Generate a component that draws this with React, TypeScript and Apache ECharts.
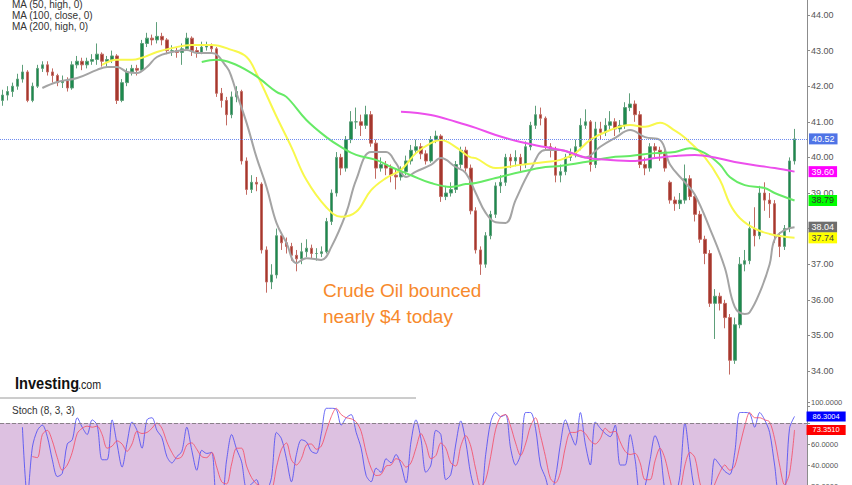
import React, { useEffect, useRef } from 'react';
import * as echarts from 'echarts';

// ---------- Candles ----------
const opens = [
  41.6, 41.75, 41.85, 42.0, 42.2, 42.4, 41.6, 42.0, 42.5, 42.6,
  42.4, 42.3, 42.1, 42.15, 41.95, 42.6, 42.7, 42.6, 42.7, 42.75,
  42.9, 42.7, 42.75, 42.85, 41.6, 42.1, 42.4, 42.5, 42.45, 43.2,
  43.35, 43.3, 43.4, 43.3, 43.0, 43.0, 42.95, 43.05, 43.35, 43.0,
  42.95, 43.1, 43.15, 43.05, 41.8, 41.6, 41.2, 41.7, 41.85, 39.9,
  39.1, 39.3, 39.25, 37.4, 36.5, 36.7, 37.8, 37.6, 37.5, 37.25,
  37.15, 37.35, 37.45, 37.3, 37.3, 37.35, 38.2, 39.0, 40.0, 39.7,
  40.5, 41.0, 41.0, 40.9, 41.2, 40.4, 39.7, 39.8, 39.7, 39.5,
  39.45, 39.6, 39.9, 40.2, 40.3, 40.1, 39.9, 40.5, 40.6, 38.9,
  39.0, 39.1, 39.8, 40.2, 39.7, 38.5, 37.4, 37.0, 37.8, 38.4,
  39.2, 39.3, 40.0, 39.9, 40.0, 39.8, 40.3, 40.9, 41.2, 41.1,
  40.3, 40.2, 39.5, 39.6, 40.0, 40.1, 40.3, 40.9, 41.0, 39.8,
  40.8, 40.7, 40.9, 41.0, 40.8, 40.9, 41.4, 41.5, 41.2, 39.8,
  39.7, 40.3, 40.2, 40.1, 39.3, 38.8, 38.7, 38.8, 39.4, 38.9,
  38.4, 37.7, 37.3, 35.9, 36.1, 35.9, 35.5, 34.3, 35.3, 37.0,
  37.1, 38.0, 37.8, 39.0, 38.8, 38.7, 37.8, 37.5, 38.0, 39.9,
];
const closes = [
  41.75, 41.85, 42.0, 42.2, 42.4, 41.6, 42.0, 42.5, 42.6, 42.4,
  42.3, 42.1, 42.15, 41.95, 42.6, 42.7, 42.6, 42.7, 42.75, 42.9,
  42.7, 42.75, 42.85, 41.6, 42.1, 42.4, 42.5, 42.45, 43.2, 43.35,
  43.3, 43.4, 43.3, 43.0, 43.0, 42.95, 43.05, 43.35, 43.0, 42.95,
  43.1, 43.15, 43.05, 41.8, 41.6, 41.2, 41.7, 41.85, 39.9, 39.1,
  39.3, 39.25, 37.4, 36.5, 36.7, 37.8, 37.6, 37.5, 37.25, 37.15,
  37.35, 37.45, 37.3, 37.3, 37.35, 38.2, 39.0, 40.0, 39.7, 40.5,
  41.0, 41.0, 40.9, 41.2, 40.4, 39.7, 39.8, 39.7, 39.5, 39.45,
  39.6, 39.9, 40.2, 40.3, 40.1, 39.9, 40.5, 40.6, 38.9, 39.0,
  39.1, 39.8, 40.2, 39.7, 38.5, 37.4, 37.0, 37.8, 38.4, 39.2,
  39.3, 40.0, 39.9, 40.0, 39.8, 40.3, 40.9, 41.2, 41.1, 40.3,
  40.2, 39.5, 39.6, 40.0, 40.1, 40.3, 40.9, 41.0, 39.8, 40.8,
  40.7, 40.9, 41.0, 40.8, 40.9, 41.4, 41.5, 41.2, 39.8, 39.7,
  40.3, 40.2, 40.1, 39.7, 38.8, 38.7, 38.8, 39.4, 38.9, 38.4,
  37.7, 37.3, 35.9, 36.1, 35.9, 35.5, 34.3, 35.3, 37.0, 37.1,
  38.0, 37.8, 39.0, 38.8, 38.7, 37.8, 37.5, 38.0, 39.9, 40.52,
];
const lows = [
  41.45, 41.6, 41.7, 41.9, 42.1, 41.55, 41.55, 41.95, 42.4, 42.3,
  42.1, 42.0, 41.95, 41.85, 41.9, 42.5, 42.45, 42.5, 42.6, 42.6,
  42.55, 42.55, 42.65, 41.5, 41.55, 42.0, 42.3, 42.3, 42.4, 43.1,
  43.15, 43.2, 43.15, 42.9, 42.85, 42.8, 42.6, 43.0, 42.85, 42.8,
  42.9, 43.0, 42.95, 41.7, 41.4, 40.9, 41.1, 41.55, 39.8, 38.95,
  39.0, 39.05, 37.3, 36.2, 36.3, 36.6, 37.4, 37.3, 37.1, 36.8,
  37.0, 37.2, 37.15, 37.1, 37.2, 37.3, 38.1, 38.9, 39.5, 39.6,
  40.4, 40.8, 40.6, 40.8, 40.3, 39.4, 39.6, 39.5, 39.3, 39.1,
  39.35, 39.5, 39.8, 40.1, 39.95, 39.8, 39.85, 40.4, 38.75, 38.8,
  38.9, 39.0, 39.7, 39.6, 38.4, 37.3, 36.7, 36.9, 37.7, 38.3,
  39.0, 39.2, 39.7, 39.75, 39.6, 39.7, 40.2, 40.8, 40.9, 40.2,
  40.0, 39.3, 39.3, 39.5, 39.9, 40.0, 40.2, 40.8, 39.6, 39.7,
  40.5, 40.6, 40.75, 40.6, 40.7, 40.8, 41.3, 41.0, 39.7, 39.5,
  39.6, 40.0, 39.9, 39.6, 38.7, 38.5, 38.55, 38.7, 38.8, 38.2,
  37.6, 37.0, 35.8, 34.9, 35.7, 35.2, 33.9, 34.2, 35.2, 36.8,
  37.0, 37.5, 37.7, 38.5, 38.3, 37.6, 37.2, 37.4, 37.9, 39.8,
];
const highs = [
  41.9, 42.0, 42.1, 42.35, 42.6, 42.45, 42.1, 42.6, 42.7, 42.7,
  42.5, 42.35, 42.3, 42.25, 42.7, 42.85, 42.8, 42.8, 42.9, 43.2,
  42.95, 42.85, 43.0, 42.9, 42.2, 42.5, 42.6, 42.6, 43.3, 43.5,
  43.45, 43.8, 43.5, 43.35, 43.15, 43.1, 43.2, 43.5, 43.4, 43.1,
  43.25, 43.25, 43.2, 43.1, 41.95, 41.7, 41.85, 42.0, 41.9, 40.0,
  39.5, 39.45, 39.3, 37.5, 37.0, 38.0, 37.9, 37.75, 37.6, 37.4,
  37.6, 37.7, 37.55, 37.45, 37.5, 38.3, 39.1, 40.15, 40.1, 40.6,
  41.3, 41.4, 41.2, 41.45, 41.3, 40.5, 40.0, 39.9, 39.8, 39.65,
  39.75, 40.05, 40.35, 40.5, 40.4, 40.2, 40.6, 40.75, 40.65, 39.2,
  39.3, 39.9, 40.3, 40.3, 39.8, 38.6, 37.5, 37.9, 38.5, 39.3,
  39.5, 40.1, 40.1, 40.2, 40.1, 40.45, 41.0, 41.45, 41.4, 41.15,
  40.4, 40.3, 39.8, 40.1, 40.25, 40.5, 41.1, 41.35, 41.05, 41.0,
  41.0, 41.1, 41.3, 41.1, 41.05, 41.55, 41.8, 41.6, 41.3, 40.0,
  40.4, 40.4, 40.3, 40.2, 39.35, 38.9, 39.0, 39.8, 39.5, 39.0,
  38.5, 37.8, 37.4, 36.3, 36.2, 36.0, 35.6, 35.5, 37.2, 37.4,
  38.2, 38.6, 39.2, 39.3, 39.0, 38.8, 37.9, 38.1, 40.0, 40.8,
];

// ---------- Moving averages: [bar index, value] ----------
const maGray = [
  [8, 41.95], [11, 42.12], [15, 42.23], [19, 42.46], [21, 42.54], [23, 42.54], [25, 42.4],
  [27, 42.37], [29, 42.54], [31, 42.82], [34, 42.96], [37, 43.02], [39, 42.93], [42, 42.93],
  [45, 42.54], [46, 42.25], [47, 41.8], [49, 40.97], [51, 40.0], [53, 39.17], [55, 38.16],
  [57, 37.6], [59, 37.03], [61, 37.17], [64, 37.12], [66, 37.48], [69, 38.44], [71, 39.37],
  [74, 40.15], [77, 40.15], [79, 39.84], [81, 39.45], [83, 39.6], [86, 39.79], [88, 39.98],
  [91, 39.73], [93, 39.56], [95, 39.0], [97, 38.44], [99, 38.18], [101, 38.16], [103, 38.8],
  [106, 39.65], [109, 40.21], [112, 40.21], [115, 40.07], [117, 40.0], [120, 40.3],
  [123, 40.55], [126, 40.77], [129, 40.57], [132, 40.49], [134, 39.8], [137, 39.3],
  [139, 38.95], [142, 38.0], [145, 36.9], [147, 35.8], [149, 35.6], [150, 35.65],
  [152, 36.2], [154, 37.0], [155, 37.7], [157, 37.96], [159, 38.04],
];
const maYellow = [
  [20, 42.6], [23, 42.74], [26, 42.74], [28, 42.8], [31, 42.96], [34, 43.07], [38, 43.16],
  [42, 43.16], [46, 43.02], [49, 42.82], [51, 42.35], [55, 41.15], [58, 40.29], [61, 39.37],
  [65, 38.6], [68, 38.33], [71, 38.47], [74, 39.08], [77, 39.42], [80, 39.65], [83, 40.12],
  [86, 40.4], [88, 40.49], [91, 40.29], [94, 40.0], [95, 39.98], [99, 39.7], [104, 39.79],
  [109, 39.87], [112, 39.93], [115, 40.12], [118, 40.49], [122, 40.77], [126, 40.91],
  [129, 40.86], [132, 40.97], [135, 40.75], [137, 40.55], [141, 40.0], [144, 39.37],
  [146, 38.7], [148, 38.3], [151, 38.0], [154, 37.85], [157, 37.77], [159, 37.74],
];
const maGreen = [
  [40, 42.68], [43, 42.74], [46, 42.65], [50, 42.37], [52, 42.17], [55, 41.84], [57, 41.7],
  [61, 41.05], [65, 40.57], [68, 40.29], [71, 40.07], [75, 39.93], [78, 39.73], [82, 39.5],
  [86, 39.28], [90, 39.17], [93, 39.25], [95, 39.28], [99, 39.42], [104, 39.59], [109, 39.73],
  [112, 39.76], [117, 39.87], [122, 40.0], [126, 40.04], [131, 40.12], [135, 40.15],
  [138, 40.26], [141, 40.12], [144, 39.8], [146, 39.45], [149, 39.22], [153, 39.14],
  [155, 39.0], [159, 38.79],
];
const maMagenta = [
  [80, 41.28], [86, 41.19], [91, 41.0], [95, 40.83], [99, 40.63], [104, 40.43], [109, 40.29],
  [113, 40.18], [117, 40.0], [122, 39.93], [127, 39.9], [131, 39.98], [135, 40.04],
  [139, 40.07], [143, 40.0], [147, 39.87], [152, 39.76], [155, 39.7], [159, 39.6],
];

// ---------- Stochastic (8,3,3) ----------
const stochK = [
  null, null, null, null, 76, 10, 57, 73, 78, 67,
  45, 29, 32, 60, 64, 85, 76, 69, 83, 78,
  45, 45, 83, 60, 38, 61, 81, 73, 56, 83,
  85, 73, 66, 48, 42, 48, 53, 76, 54, 35,
  54, 51, 52, 10, 10, 45, 69, 55, 43, 18,
  22, 26, 12, 15, 28, 71, 65, 46, 24, 50,
  64, 62, 53, 51, 70, 94, 94, 93, 78, 85,
  88, 71, 56, 30, 24, 37, 33, 46, 42, 50,
  40, 23, 62, 83, 65, 33, 40, 73, 69, 26,
  31, 60, 82, 62, 31, 15, 12, 50, 81, 90,
  86, 88, 56, 40, 50, 90, 90, 75, 40, 28,
  12, 28, 60, 83, 70, 59, 90, 60, 40, 81,
  75, 70, 67, 78, 40, 40, 69, 45, 12, 20,
  45, 68, 55, 15, 8, 10, 30, 80, 45, 15,
  8, 8, 12, 46, 40, 34, 31, 52, 90, 90,
  89, 76, 90, 83, 71, 40, 10, 12, 75, 86.3004,
];
const stochD = [
  null, null, null, null, null, null, 48, 47, 69, 73,
  63, 47, 35, 40, 52, 70, 75, 77, 76, 77,
  69, 56, 58, 63, 60, 53, 60, 72, 70, 71,
  75, 80, 75, 62, 52, 46, 48, 59, 61, 55,
  48, 47, 52, 38, 24, 22, 41, 56, 56, 39,
  28, 22, 20, 18, 18, 38, 55, 61, 45, 40,
  46, 59, 60, 55, 58, 72, 86, 94, 88, 85,
  84, 81, 72, 52, 37, 30, 31, 39, 40, 46,
  44, 38, 42, 56, 70, 60, 46, 49, 61, 56,
  42, 39, 58, 68, 58, 36, 19, 26, 48, 74,
  86, 88, 77, 61, 49, 60, 77, 85, 68, 48,
  27, 23, 33, 57, 71, 71, 73, 70, 63, 60,
  65, 75, 71, 72, 62, 53, 50, 51, 42, 26,
  26, 44, 56, 46, 26, 11, 16, 40, 52, 47,
  23, 10, 9, 22, 33, 40, 35, 39, 58, 77,
  90, 85, 85, 83, 81, 65, 40, 21, 32, 73.351,
];

const legendLines = ['MA (50, high, 0)', 'MA (100, close, 0)', 'MA (200, high, 0)'];
const noteLines = ['Crude Oil bounced', 'nearly $4 today'];
const stochTitle = 'Stoch (8, 3, 3)';
const extraSlots = 2;

const FONT = '"Liberation Sans", Arial, sans-serif';

function maSeries(data: number[][], color: string, boxColor: string, textColor: string) {
  return {
    type: 'line',
    xAxisIndex: 0,
    yAxisIndex: 0,
    data,
    smooth: 0.4,
    showSymbol: false,
    silent: true,
    lineStyle: { color, width: 2 },
    itemStyle: { color },
    endLabel: {
      show: true,
      formatter: (p: any) => Number(p.value[1]).toFixed(2),
      backgroundColor: boxColor,
      color: textColor,
      fontSize: 9,
      fontFamily: FONT,
      padding: [1, 3, 1, 3],
      distance: 14,
    },
  };
}

export default function App() {
  const ref = useRef<HTMLDivElement>(null);

  useEffect(() => {
    document.body.style.margin = '0';
    const chart = echarts.init(ref.current!, null, { renderer: 'svg' });
    const cats: string[] = [];
    for (let i = 0; i < closes.length + extraSlots; i++) cats.push(String(i));
    const candles = closes.map((c, i) => [opens[i], c, lows[i], highs[i]]);
    const last = closes[closes.length - 1];

    chart.setOption({
      animation: false,
      backgroundColor: '#ffffff',
      grid: [
        { left: 0, right: 45, top: -20.6, height: 427.2, outerBoundsMode: 'none', containLabel: false },
        { left: 0, right: 45, top: 402, height: 105, outerBoundsMode: 'none', containLabel: false },
      ],
      xAxis: [
        { type: 'category', gridIndex: 0, data: cats, boundaryGap: true, show: false },
        { type: 'category', gridIndex: 1, data: cats, boundaryGap: true, show: false },
      ],
      yAxis: [
        {
          type: 'value', gridIndex: 0, position: 'right', min: 33, max: 45, interval: 1,
          splitLine: { show: false },
          axisLine: { show: true, lineStyle: { color: '#8c8c8c', width: 1 } },
          axisTick: { show: true, length: 3, lineStyle: { color: '#8c8c8c' } },
          axisLabel: {
            fontSize: 9, color: '#555', margin: 4, fontFamily: FONT,
            formatter: (v: number) => (v < 34 || v > 44 ? '' : v.toFixed(2)),
          },
        },
        {
          type: 'value', gridIndex: 1, position: 'right', min: 0, max: 100, interval: 20,
          splitLine: { show: false },
          axisLine: { show: true, lineStyle: { color: '#8c8c8c', width: 1 } },
          axisTick: { show: true, length: 3, lineStyle: { color: '#8c8c8c' } },
          axisLabel: {
            fontSize: 7.5, color: '#555', margin: 4, fontFamily: FONT,
            formatter: (v: number) => (v === 80 || v === 0 ? '' : v.toFixed(4)),
          },
        },
      ],
      series: [
        {
          type: 'candlestick',
          xAxisIndex: 0,
          yAxisIndex: 0,
          data: candles,
          barWidth: 3,
          silent: true,
          itemStyle: {
            color: '#1d8a4e',
            color0: '#a4382e',
            borderColor: '#5e9f7a',
            borderColor0: '#c26a62',
            borderWidth: 1,
          },
          markLine: {
            silent: true,
            symbol: 'none',
            data: [{ yAxis: last }],
            lineStyle: { color: '#6f8cf0', type: 'dotted', width: 1 },
            label: {
              show: true,
              position: 'end',
              distance: 2,
              formatter: (p: any) => Number(p.value).toFixed(2),
              backgroundColor: '#4f74e6',
              color: '#fff',
              fontSize: 9,
              fontFamily: FONT,
              padding: [1, 3, 1, 3],
            },
          },
        },
        maSeries(maGray, '#a4a4a4', '#6e6e6e', '#ffffff'),
        maSeries(maYellow, '#f8f84c', '#ffff00', '#444444'),
        maSeries(maGreen, '#66ea66', '#00ff00', '#333333'),
        maSeries(maMagenta, '#ec4fec', '#ff00ff', '#ffffff'),
        {
          type: 'line',
          xAxisIndex: 1,
          yAxisIndex: 1,
          data: stochK,
          smooth: 0.3,
          showSymbol: false,
          silent: true,
          lineStyle: { color: '#4f4ff5', width: 1, opacity: 0.85 },
          itemStyle: { color: '#4f4ff5' },
          endLabel: {
            show: true,
            formatter: (p: any) => Number(p.value).toFixed(4),
            backgroundColor: '#0000ff',
            color: '#fff',
            fontSize: 7.5,
            fontFamily: FONT,
            padding: [1, 6, 1, 6],
            distance: 12,
          },
          markArea: {
            silent: true,
            itemStyle: { color: 'rgb(221,193,225)' },
            data: [[{ yAxis: 20 }, { yAxis: 80 }]],
          },
          markLine: {
            silent: true,
            symbol: 'none',
            label: { show: false },
            data: [{ yAxis: 80 }],
            lineStyle: { color: '#8a808a', type: 'dashed', width: 1 },
          },
          z: 3,
        },
        {
          type: 'line',
          xAxisIndex: 1,
          yAxisIndex: 1,
          data: stochD,
          smooth: 0.3,
          showSymbol: false,
          silent: true,
          lineStyle: { color: '#f5506a', width: 1, opacity: 0.85 },
          itemStyle: { color: '#f5506a' },
          endLabel: {
            show: true,
            formatter: (p: any) => Number(p.value).toFixed(4),
            backgroundColor: '#ff0000',
            color: '#fff',
            fontSize: 7.5,
            fontFamily: FONT,
            padding: [1, 6, 1, 6],
            distance: 12,
          },
          z: 3,
        },
      ],
      graphic: [
        ...legendLines.map((t, i) => ({
          type: 'text',
          x: 12,
          y: 4 + i * 11.3,
          silent: true,
          style: { text: t, fill: '#333', font: `10px ${FONT}`, verticalAlign: 'middle' },
        })),
        {
          type: 'line',
          silent: true,
          shape: { x1: 0, y1: 398, x2: 416, y2: 398 },
          style: { stroke: '#9a9a9a', lineWidth: 1 },
        },
        {
          type: 'text',
          x: 15,
          y: 383,
          scaleX: 0.86,
          silent: true,
          style: { text: 'Investing', fill: '#111', font: `bold 17px ${FONT}`, verticalAlign: 'middle' },
        },
        {
          type: 'text',
          x: 78,
          y: 385,
          scaleX: 0.82,
          silent: true,
          style: { text: '.com', fill: '#222', font: `13px ${FONT}`, verticalAlign: 'middle' },
        },
        {
          type: 'text',
          x: 12,
          y: 410,
          silent: true,
          style: { text: stochTitle, fill: '#333', font: `10px ${FONT}`, verticalAlign: 'middle' },
        },
        ...noteLines.map((t, i) => ({
          type: 'text',
          x: 323,
          y: 290 + i * 26,
          silent: true,
          style: { text: t, fill: '#f7892c', font: `19px ${FONT}`, verticalAlign: 'middle' },
        })),
      ],
    });

    return () => chart.dispose();
  }, []);

  return (
    <div
      ref={ref}
      style={{ position: 'absolute', left: 0, top: 0, width: 852, height: 485 }}
    />
  );
}
